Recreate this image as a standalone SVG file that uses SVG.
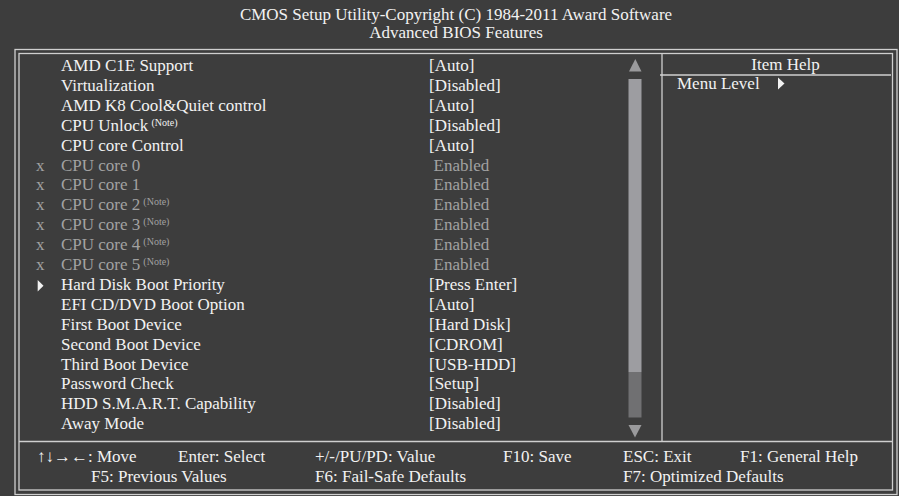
<svg xmlns="http://www.w3.org/2000/svg" width="899" height="496" viewBox="0 0 899 496">
<style>
text{font-family:"Liberation Serif","Times New Roman",serif;font-size:17px;fill:#f2f2f2}
.g{fill:#a2a2a2}
.sup{font-size:10px}
.ln{fill:none;stroke:#cfcfcf;stroke-width:1.3}
.mid{text-anchor:middle}
</style>
<rect x="0" y="0" width="899" height="496" fill="#3d3d3d"/>
<g id="title">
<text class="mid" x="456" y="20">CMOS Setup Utility-Copyright (C) 1984-2011 Award Software</text>
<text class="mid" x="456" y="38">Advanced BIOS Features</text>
</g>
<g id="frame">
<rect class="ln" x="15" y="49.5" width="882" height="445"/>
<rect class="ln" x="19" y="53.5" width="873.5" height="436.5"/>
<line class="ln" x1="19" y1="441.5" x2="892.5" y2="441.5"/>
<line class="ln" x1="662" y1="53.5" x2="662" y2="441.5"/>
<line class="ln" x1="660" y1="75" x2="891" y2="75"/>
</g>
<g id="scrollbar">
<polygon points="629,71.5 641.5,71.5 635.3,59" fill="#9a9a9c"/>
<rect x="628.5" y="79" width="13" height="293" fill="#9d9da1"/>
<rect x="628.5" y="372" width="13" height="45.5" fill="#707072"/>
<polygon points="628.5,425 641.5,425 635,437.5" fill="#9a9a9c"/>
</g>
<g id="help">
<text class="mid" x="785.5" y="69.5">Item Help</text>
<text x="677" y="89">Menu Level</text>
<polygon points="778,77.5 784.5,83.5 778,89.5" fill="#f2f2f2"/>
</g>
<g id="items">
<text x="61" y="71">AMD C1E Support</text>
<text x="61" y="90.9">Virtualization</text>
<text x="61" y="110.8">AMD K8 Cool&amp;Quiet control</text>
<text x="61" y="130.7">CPU Unlock<tspan class="sup" dx="3" dy="-5">(Note)</tspan></text>
<text x="61" y="150.6">CPU core Control</text>
<text class="g" x="36" y="170.5">x</text><text class="g" x="61" y="170.5">CPU core 0</text>
<text class="g" x="36" y="190.4">x</text><text class="g" x="61" y="190.4">CPU core 1</text>
<text class="g" x="36" y="210.3">x</text><text class="g" x="61" y="210.3">CPU core 2<tspan class="sup" dx="3" dy="-5">(Note)</tspan></text>
<text class="g" x="36" y="230.2">x</text><text class="g" x="61" y="230.2">CPU core 3<tspan class="sup" dx="3" dy="-5">(Note)</tspan></text>
<text class="g" x="36" y="250.1">x</text><text class="g" x="61" y="250.1">CPU core 4<tspan class="sup" dx="3" dy="-5">(Note)</tspan></text>
<text class="g" x="36" y="270">x</text><text class="g" x="61" y="270">CPU core 5<tspan class="sup" dx="3" dy="-5">(Note)</tspan></text>
<polygon points="37.7,280 43.5,285.8 37.7,291.6" fill="#f2f2f2"/>
<text x="61" y="289.9">Hard Disk Boot Priority</text>
<text x="61" y="309.8">EFI CD/DVD Boot Option</text>
<text x="61" y="329.7">First Boot Device</text>
<text x="61" y="349.6">Second Boot Device</text>
<text x="61" y="369.5">Third Boot Device</text>
<text x="61" y="389.4">Password Check</text>
<text x="61" y="409.3">HDD S.M.A.R.T. Capability</text>
<text x="61" y="429.2">Away Mode</text>
</g>
<g id="values">
<text x="429" y="71">[Auto]</text>
<text x="429" y="90.9">[Disabled]</text>
<text x="429" y="110.8">[Auto]</text>
<text x="429" y="130.7">[Disabled]</text>
<text x="429" y="150.6">[Auto]</text>
<text class="g" x="433.5" y="170.5">Enabled</text>
<text class="g" x="433.5" y="190.4">Enabled</text>
<text class="g" x="433.5" y="210.3">Enabled</text>
<text class="g" x="433.5" y="230.2">Enabled</text>
<text class="g" x="433.5" y="250.1">Enabled</text>
<text class="g" x="433.5" y="270">Enabled</text>
<text x="429" y="289.9">[Press Enter]</text>
<text x="429" y="309.8">[Auto]</text>
<text x="429" y="329.7">[Hard Disk]</text>
<text x="429" y="349.6">[CDROM]</text>
<text x="429" y="369.5">[USB-HDD]</text>
<text x="429" y="389.4">[Setup]</text>
<text x="429" y="409.3">[Disabled]</text>
<text x="429" y="429.2">[Disabled]</text>
</g>
<g id="footer">
<text x="37" y="462">↑↓→←: Move</text>
<text x="178" y="462">Enter: Select</text>
<text x="315" y="462">+/-/PU/PD: Value</text>
<text x="503" y="462">F10: Save</text>
<text x="623" y="462">ESC: Exit</text>
<text x="740" y="462">F1: General Help</text>
<text x="91" y="482">F5: Previous Values</text>
<text x="315" y="482">F6: Fail-Safe Defaults</text>
<text x="623" y="482">F7: Optimized Defaults</text>
</g>
</svg>
